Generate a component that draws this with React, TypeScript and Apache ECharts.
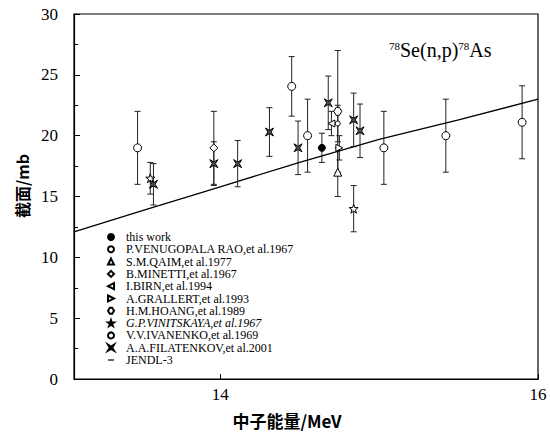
import React, { useEffect, useRef } from "react";
import * as echarts from "echarts";

// JENDL-3 evaluated curve
const jendlX = [13.08, 13.5, 14.0, 14.5, 15.0, 15.5, 16.0];
const jendlY = [12.1, 13.8, 15.8, 17.8, 19.7, 21.3, 23.0];

// Experimental data: [energy MeV, cross section mb, error mb]
const thisWork = [[14.64, 19.0, 1.2]];
const venugopal = [[14.74, 21.0, 1.5]];
const qaim = [[14.74, 17.0, 2.0]];
const minetti = [[13.96, 19.0, 3.0]];
const birn = [[14.7, 21.0, 1.0]];
const grallert = [[14.75, 19.0, 1.0]];
const hoang = [[14.74, 22.0, 5.0]];
const vinitskaya = [[13.56, 16.5, 1.3], [14.84, 14.0, 1.9]];
const ivanenko = [
  [13.48, 19.0, 3.0], [14.45, 24.05, 2.45], [14.55, 20.0, 3.0],
  [15.03, 19.0, 3.0], [15.42, 20.0, 3.0], [15.9, 21.1, 3.0],
];
const filatenkov = [
  [13.58, 16.0, 1.7], [13.96, 17.7, 1.8], [14.11, 17.7, 1.9], [14.31, 20.3, 2.0],
  [14.49, 19.0, 2.2], [14.68, 22.7, 2.2], [14.84, 21.3, 2.2], [14.88, 20.4, 2.2],
];

const xTicks = [14, 16];
const yMin = 0, yMax = 30, yStep = 5;

const FONT = "'Liberation Serif', 'Times New Roman', 'Noto Sans CJK SC', serif";
const CJK = "'Noto Sans CJK SC', 'Liberation Serif', serif";

const sets = [
  { name: "this work", data: thisWork, symbol: "circle", size: 7, fill: "#000" },
  { name: "P.VENUGOPALA RAO,et al.1967", data: venugopal, symbol: "circle", size: 5, fill: "#fff" },
  { name: "S.M.QAIM,et al.1977", data: qaim, symbol: "triangle", size: 8, fill: "#fff" },
  { name: "B.MINETTI,et al.1967", data: minetti, symbol: "diamond", size: 8, fill: "#fff" },
  { name: "I.BIRN,et al.1994", data: birn, symbol: "path://M10,0 L0,5 L10,10 Z", size: 7, fill: "#fff" },
  { name: "A.GRALLERT,et al.1993", data: grallert, symbol: "path://M0,0 L10,5 L0,10 Z", size: 7, fill: "#fff" },
  { name: "H.M.HOANG,et al.1989", data: hoang, symbol: "path://M3,0 L7,0 L10,5 L7,10 L3,10 L0,5 Z", size: 8, fill: "#fff" },
  { name: "G.P.VINITSKAYA,et al.1967", data: vinitskaya, symbol: "path://M5,0 L6.2,3.6 L10,3.6 L6.9,5.9 L8.1,9.5 L5,7.3 L1.9,9.5 L3.1,5.9 L0,3.6 L3.8,3.6 Z", size: 9, fill: "#fff" },
  { name: "V.V.IVANENKO,et al.1969", data: ivanenko, symbol: "circle", size: 8, fill: "#fff" },
  { name: "A.A.FILATENKOV,et al.2001", data: filatenkov, symbol: "path://M0,0 L5,3 L10,0 L7,5 L10,10 L5,7 L0,10 L3,5 Z", size: 8, fill: "#555" },
];

export default function App() {
  const ref = useRef<HTMLDivElement>(null);
  useEffect(() => {
    if (!ref.current) return;
    const chart = echarts.init(ref.current, null, { renderer: "svg" });
    const errData: number[][] = [];
    sets.forEach((s) => s.data.forEach((d) => errData.push([d[0], d[1] - d[2], d[1] + d[2]])));

    const series: any[] = [
      {
        type: "custom",
        name: "errors",
        data: errData,
        encode: { x: 0, y: [1, 2] },
        z: 2,
        renderItem: (params: any, api: any) => {
          const x = api.value(0);
          const lo = api.coord([x, api.value(1)]);
          const hi = api.coord([x, api.value(2)]);
          const st = { stroke: "#222", lineWidth: 1 };
          return {
            type: "group",
            children: [
              { type: "line", shape: { x1: lo[0], y1: lo[1], x2: hi[0], y2: hi[1] }, style: st },
              { type: "line", shape: { x1: lo[0] - 3, y1: lo[1], x2: lo[0] + 3, y2: lo[1] }, style: st },
              { type: "line", shape: { x1: hi[0] - 3, y1: hi[1], x2: hi[0] + 3, y2: hi[1] }, style: st },
            ],
          };
        },
      },
      {
        type: "line",
        name: "JENDL-3",
        data: jendlX.map((x, i) => [x, jendlY[i]]),
        showSymbol: false,
        symbol: "none",
        lineStyle: { color: "#000", width: 1.3 },
        itemStyle: { color: "#000" },
        z: 3,
      },
      ...sets.map((s) => ({
        type: "scatter",
        name: s.name,
        data: s.data.map((d) => [d[0], d[1]]),
        symbol: s.symbol,
        symbolSize: s.size,
        itemStyle: { color: s.fill, borderColor: "#000", borderWidth: 1, opacity: 1 },
        z: 5,
      })),
    ];

    const legendData: any[] = sets.map((s) =>
      s.name.startsWith("G.P.") ? { name: s.name, textStyle: { fontStyle: "italic" } } : { name: s.name }
    );
    legendData.push({ name: "JENDL-3", icon: "path://M0,0 L10,0 L10,2 L0,2 Z" });

    chart.setOption({
      animation: false,
      grid: {
        left: 74, right: 12, top: 14, bottom: 60,
        show: true, borderColor: "#000", borderWidth: 1.2, backgroundColor: "transparent",
      },
      xAxis: {
        type: "value",
        min: 13.08,
        max: 16,
        axisLine: { show: true, lineStyle: { color: "#000", width: 1.2 } },
        axisTick: { show: true, inside: true, length: 5, customValues: xTicks, lineStyle: { color: "#000" } },
        axisLabel: {
          show: true, customValues: xTicks, margin: 7,
          fontFamily: FONT, fontSize: 17, color: "#000",
        },
        splitLine: { show: false },
      },
      yAxis: {
        type: "value",
        min: yMin,
        max: yMax,
        interval: yStep,
        axisLine: { show: true, lineStyle: { color: "#000", width: 1.2 } },
        axisTick: { show: true, inside: true, length: 6, lineStyle: { color: "#000" } },
        minorTick: { show: true, splitNumber: 2, length: 4, lineStyle: { color: "#000" } },
        axisLabel: { margin: 16, fontFamily: FONT, fontSize: 17, color: "#000" },
        splitLine: { show: false },
      },
      legend: {
        orient: "vertical",
        left: 107,
        top: 231,
        itemWidth: 6,
        itemHeight: 6,
        itemGap: 0.3,
        padding: 0,
        data: legendData,
        textStyle: { fontFamily: FONT, fontSize: 12, color: "#000", lineHeight: 12, padding: [0, 0, 0, 7] },
      },
      graphic: [
        {
          type: "text", x: 389, y: 40,
          style: {
            text: "{s|78}{m|Se(n,p)}{s|78}{m|As}",
            fill: "#000",
            rich: {
              s: { fontFamily: FONT, fontSize: 11, verticalAlign: "top", lineHeight: 20, padding: [1, 0, 0, 0] },
              m: { fontFamily: FONT, fontSize: 20, verticalAlign: "bottom", lineHeight: 20 },
            },
          },
        },
        {
          type: "text", x: 22, y: 186, rotation: Math.PI / 2,
          style: { text: "截面/mb", font: `bold 16px ${CJK}`, fill: "#000", align: "center", verticalAlign: "middle" },
        },
        {
          type: "text", x: 287, y: 420,
          style: { text: "中子能量/MeV", font: `bold 17px ${CJK}`, fill: "#000", align: "center", verticalAlign: "middle" },
        },
      ],
      series,
    });
    return () => chart.dispose();
  }, []);
  return <div ref={ref} style={{ width: 550, height: 439, position: "absolute", left: 0, top: 0 }} />;
}
